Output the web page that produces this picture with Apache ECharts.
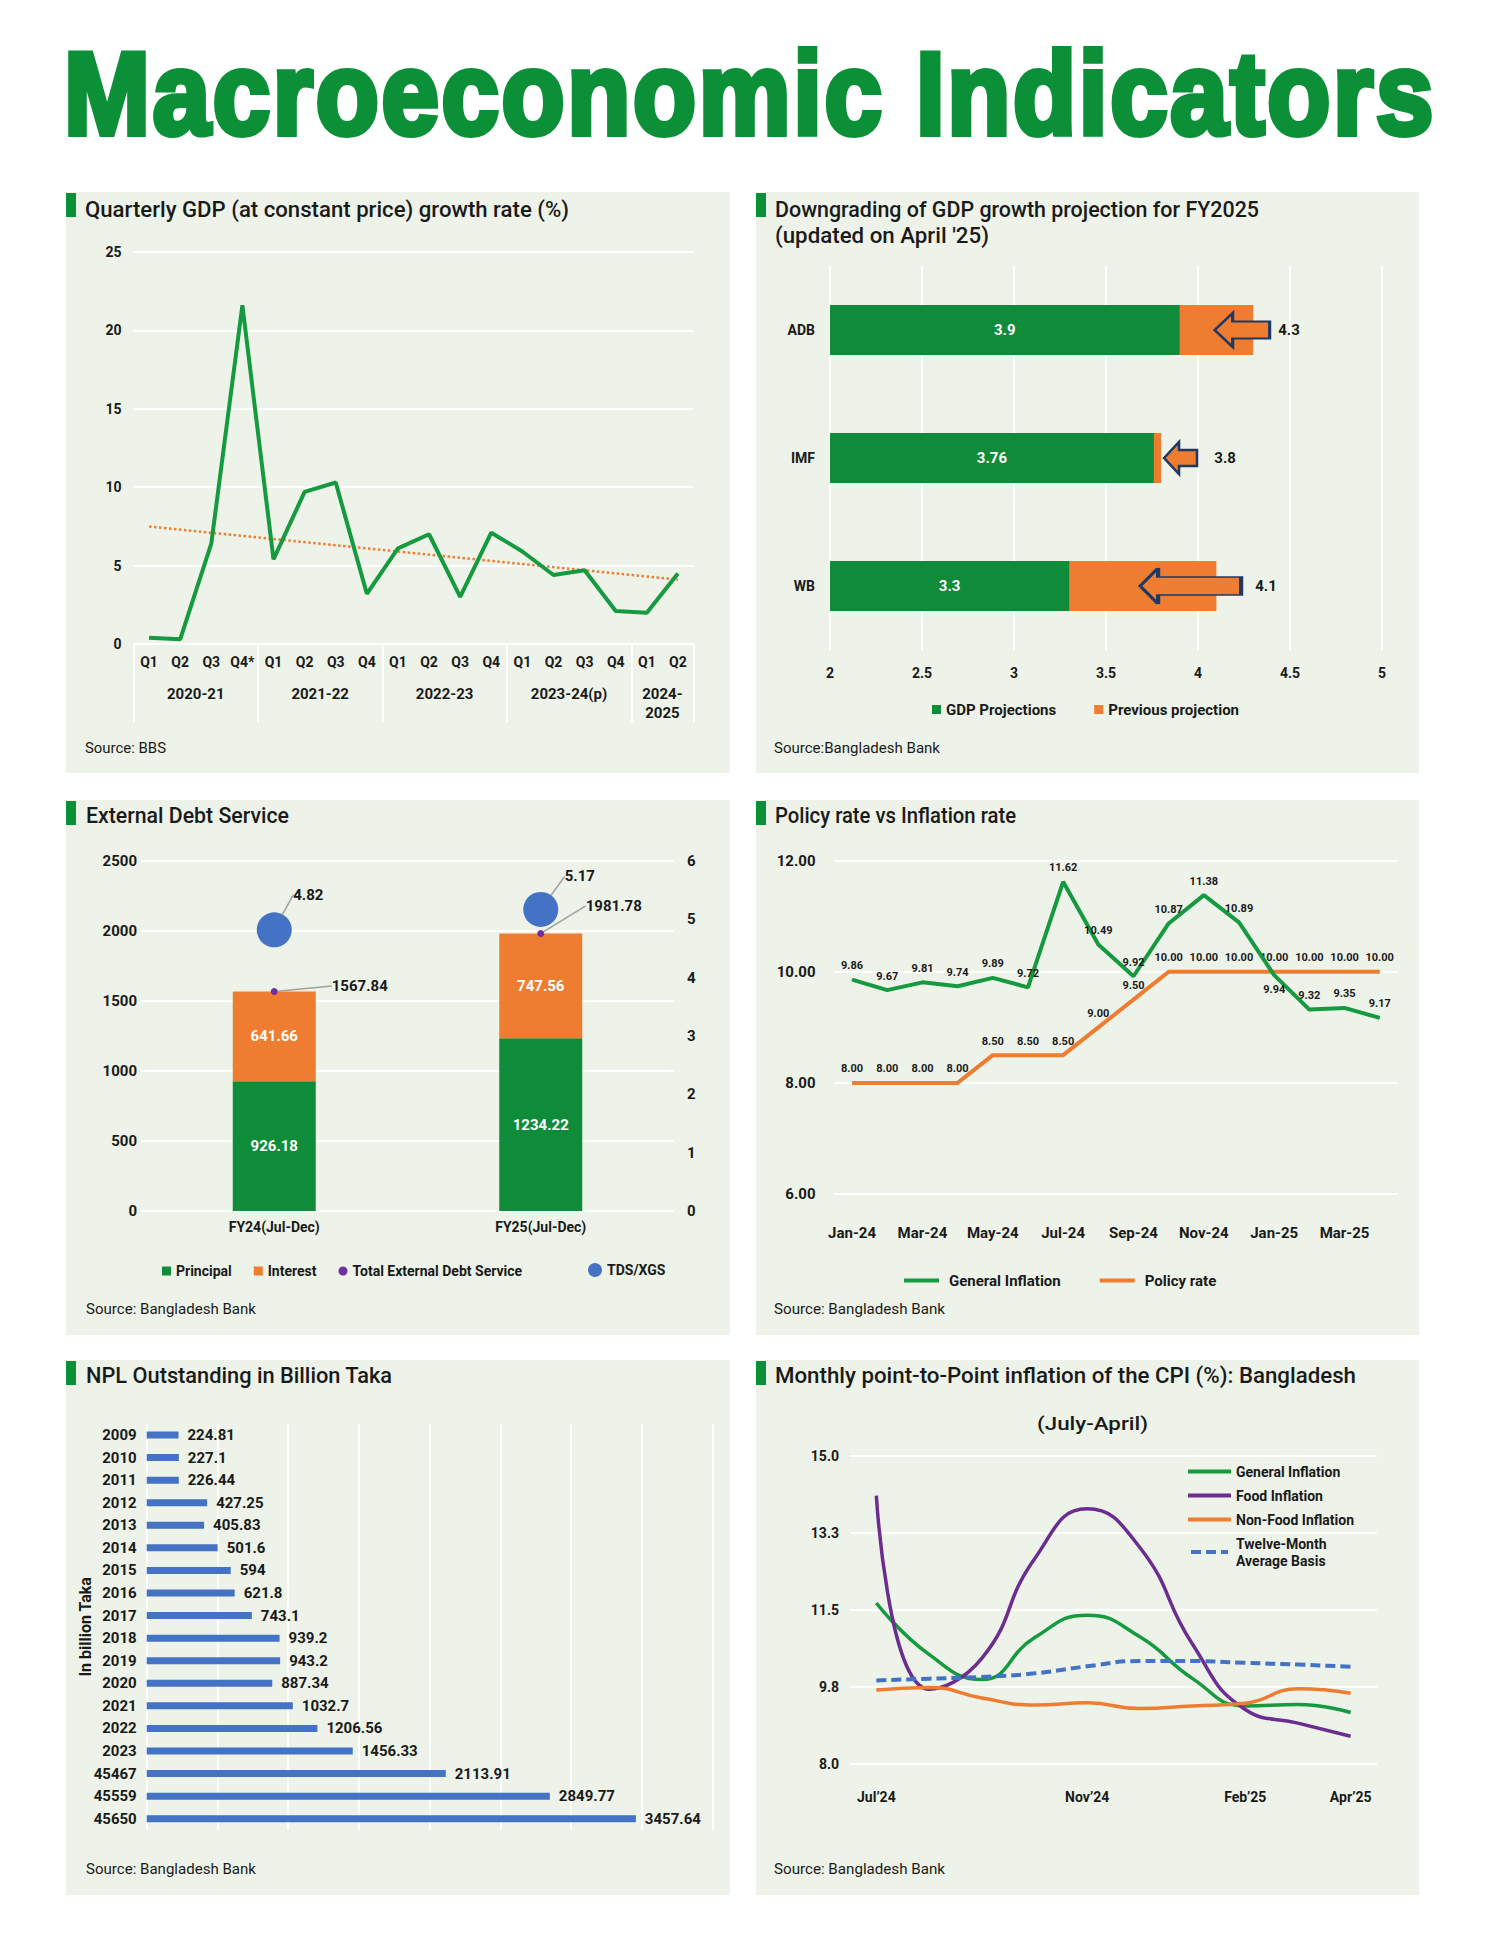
<!DOCTYPE html>
<html><head><meta charset="utf-8">
<script src="https://cdn.jsdelivr.net/npm/echarts@6/dist/echarts.min.js"></script>
<style>
html,body{margin:0;padding:0;background:#fff;}
body{width:1500px;height:1941px;position:relative;overflow:hidden;font-family:Roboto,"Noto Sans",sans-serif;}
.panel{position:absolute;background:#edf3e8;}
.mark{position:absolute;background:#0b9038;width:10px;height:24px;}
.txt{position:absolute;white-space:nowrap;transform-origin:0 0;color:#1a1a1a;font-family:Roboto,"Noto Sans",sans-serif;}
#mainTitle{position:absolute;white-space:nowrap;transform-origin:0 0;font-family:"Liberation Sans",Arial,sans-serif;font-weight:bold;font-size:116px;line-height:116px;color:#0b9038;-webkit-text-stroke:6px #0b9038;paint-order:stroke fill;letter-spacing:3px;}
</style></head><body>
<div id="mainTitle">Macroeconomic Indicators</div>
<script>
// ---------- DATA ----------
// Quarterly GDP growth
const gdpQuarters = ['Q1','Q2','Q3','Q4*','Q1','Q2','Q3','Q4','Q1','Q2','Q3','Q4','Q1','Q2','Q3','Q4','Q1','Q2'];
const gdpYears = ['2020-21','2021-22','2022-23','2023-24(p)','2024-\n2025'];
const gdpYearBounds = [0,4,8,12,16,18];
const gdpGrowth = [0.4,0.3,6.4,21.6,5.4,9.7,10.3,3.2,6.1,7.0,3.0,7.1,5.9,4.4,4.7,2.1,2.0,4.5];
const gdpTrend = [[0,7.5],[17,4.1]];

// GDP projection downgrade
const projAgencies = ['ADB','IMF','WB'];
const gdpProjection = [3.9,3.76,3.3];
const previousProjection = [4.3,3.8,4.1];

// External debt service
const debtPeriods = ['FY24(Jul-Dec)','FY25(Jul-Dec)'];
const debtPrincipal = [926.18,1234.22];
const debtInterest = [641.66,747.56];
const debtTotal = [1567.84,1981.78];
const tdsXgs = [4.82,5.17];

// Policy rate vs inflation
const policyMonths = ['Jan-24','Feb-24','Mar-24','Apr-24','May-24','Jun-24','Jul-24','Aug-24','Sep-24','Oct-24','Nov-24','Dec-24','Jan-25','Feb-25','Mar-25','Apr-25'];
const generalInflation = [9.86,9.67,9.81,9.74,9.89,9.72,11.62,10.49,9.92,10.87,11.38,10.89,9.94,9.32,9.35,9.17];
const policyRate = [8,8,8,8,8.5,8.5,8.5,9,9.5,10,10,10,10,10,10,10];

// NPL outstanding
const nplYears = ['2009','2010','2011','2012','2013','2014','2015','2016','2017','2018','2019','2020','2021','2022','2023','45467','45559','45650'];
const nplValues = [224.81,227.1,226.44,427.25,405.83,501.6,594,621.8,743.1,939.2,943.2,887.34,1032.7,1206.56,1456.33,2113.91,2849.77,3457.64];

// Monthly CPI inflation
const cpiMonths = ['Jul\u201924','Aug\u201924','Sep\u201924','Oct\u201924','Nov\u201924','Dec\u201924','Jan\u201925','Feb\u201925','Mar\u201925','Apr\u201925'];
const cpiShownLabels = ['Jul\u201924','Nov\u201924','Feb\u201925','Apr\u201925'];
const cpiGeneral = [11.66,10.49,9.92,10.87,11.38,10.89,9.94,9.32,9.35,9.17];
const cpiFood = [14.10,9.70,10.40,12.66,13.80,12.92,10.72,9.24,8.93,8.63];
const cpiNonFood = [9.68,9.74,9.50,9.34,9.39,9.26,9.32,9.38,9.71,9.61];
const cpiTwelveMonth = [9.90,9.94,9.98,10.06,10.22,10.34,10.34,10.30,10.26,10.21];

// ---------- STYLE ----------
const GREEN='#0f8c3a', LGREEN='#169a3f', ORANGE='#ef7d31', BLUE='#4472c4', PURPLE='#6b2d90', DARK='#1a1a1a', NAVY='#1f3864';
const FONT='Roboto';
const panels = [[66,192,664,581],[756,192,663,581],[66,800,664,535],[756,800,663,535],[66,1360,664,535],[756,1360,663,535]];

// ---------- LAYOUT ----------
const charts=[];
panels.forEach((p,i)=>{
  const d=document.createElement('div');
  d.className='panel';
  d.style.cssText+=`left:${p[0]}px;top:${p[1]}px;width:${p[2]}px;height:${p[3]}px;`;
  document.body.appendChild(d);
  const m=document.createElement('div');
  m.className='mark';
  m.style.left=p[0]+'px'; m.style.top=(p[1]+1)+'px';
  document.body.appendChild(m);
  charts.push(echarts.init(d,null,{renderer:'svg',width:p[2],height:p[3]}));
});

const texts = [
 ['Quarterly GDP (at constant price) growth rate (%)',85,218,22,500,484],
 ['Downgrading of GDP growth projection for FY2025',775,218,22,500,484],
 ["(updated on April '25)",775,243.5,22,500,214],
 ['External Debt Service',86,824,22,500,203],
 ['Policy rate vs Inflation rate',775,824,22,500,241],
 ['NPL Outstanding in Billion Taka',86,1384,22,500,306],
 ['Monthly point-to-Point inflation of the CPI (%): Bangladesh',775,1384,22,500,581],
 ['(July-April)',1037,1430,19,500,111],
 ['Source: BBS',85,754,15,400,81],
 ['Source:Bangladesh Bank',774,754,15,400,166],
 ['Source: Bangladesh Bank',86,1315,15,400,170],
 ['Source: Bangladesh Bank',774,1315,15,400,171],
 ['Source: Bangladesh Bank',86,1875,15,400,170],
 ['Source: Bangladesh Bank',774,1875,15,400,171]
];
texts.forEach(t=>{
  const s=document.createElement('div');
  s.className='txt';
  s.textContent=t[0];
  s.style.fontSize=t[3]+'px'; s.style.lineHeight=t[3]+'px'; s.style.fontWeight=t[4];
  s.style.left=t[1]+'px'; s.style.top=(t[2]-0.8415*t[3])+'px';
  document.body.appendChild(s);
  const w=s.getBoundingClientRect().width;
  s.style.transform=`scaleX(${t[5]/w})`;
});
const mt=document.getElementById('mainTitle');
mt.style.left='64px'; mt.style.top='36px';
mt.style.transform=`scaleX(${1372/mt.getBoundingClientRect().width})`;

const lbl=(o)=>Object.assign({fontFamily:FONT,fontWeight:'bold',color:DARK},o);
const white={color:'#ffffff',width:2};
const G=(o)=>Object.assign({outerBoundsMode:'none',containLabel:false},o);

// ---------- PANEL 1 : Quarterly GDP ----------
const yearCenters = gdpYears.map((_,i)=>(gdpYearBounds[i]+gdpYearBounds[i+1])/2);
charts[0].setOption({
  animation:false, textStyle:{fontFamily:FONT},
  grid:G({left:67.5,right:36.5,top:60,bottom:129}),
  xAxis:[
    {type:'category',data:gdpQuarters,axisLine:{show:false},axisTick:{show:false},
     axisLabel:lbl({interval:0,margin:11,fontSize:14})},
    {type:'value',min:0,max:18,position:'bottom',axisLine:{show:false},splitLine:{show:false},
     axisTick:{show:true,customValues:gdpYearBounds,length:78,lineStyle:white},
     axisLabel:lbl({customValues:yearCenters,margin:40,fontSize:15,lineHeight:19,
       formatter:v=>{const k=yearCenters.indexOf(v);return k>=0?gdpYears[k]:'';}})}
  ],
  yAxis:{type:'value',min:0,max:25,interval:5,axisLine:{show:false},axisTick:{show:false},
     splitLine:{lineStyle:white},axisLabel:lbl({margin:12,fontSize:14})},
  series:[
    {type:'line',data:gdpGrowth,symbol:'none',lineStyle:{color:LGREEN,width:4},z:3},
    {type:'line',data:gdpTrend,symbol:'none',lineStyle:{color:ORANGE,width:2.5,type:'dotted'},z:2}
  ]
});

// ---------- PANEL 2 : Projection downgrade ----------
const arrowMarks=[{at:4.24,w:55,h:34,head:18,shaft:17,gap:7},{at:3.905,w:33,h:32,head:15,shaft:16,gap:16},{at:3.96,w:101,h:36,head:18,shaft:18,gap:12}];
function arrowPath(w,h,head,shaft){const t=(h-shaft)/2,b=(h+shaft)/2;return `path://M0,${h/2}L${head},0L${head},${t}L${w},${t}L${w},${b}L${head},${b}L${head},${h}Z`;}
charts[1].setOption({
  animation:false, textStyle:{fontFamily:FONT},
  grid:G({left:74,right:37,top:74,bottom:123}),
  xAxis:{type:'value',min:2,max:5,interval:0.5,axisLine:{show:false},axisTick:{show:false},
     splitLine:{lineStyle:white},axisLabel:lbl({margin:16,fontSize:14})},
  yAxis:{type:'category',data:projAgencies,inverse:true,axisLine:{show:false},axisTick:{show:false},
     axisLabel:lbl({margin:15,fontSize:14})},
  legend:{data:[{name:'GDP Projections',icon:'rect'},{name:'Previous projection',icon:'rect'}],padding:0,
     left:176,top:510,itemWidth:9,itemHeight:9,itemGap:38,textStyle:lbl({fontSize:15})},
  series:[
    {name:'Previous projection',type:'bar',data:previousProjection,barWidth:50,itemStyle:{color:ORANGE},
     markPoint:{
       data:arrowMarks.map((a,i)=>({coord:[a.at,projAgencies[i]],value:previousProjection[i],
         symbol:arrowPath(a.w,a.h,a.head,a.shaft),symbolSize:[a.w,a.h],
         label:{distance:a.gap}})),
       itemStyle:{color:ORANGE,borderColor:NAVY,borderWidth:2.5},
       label:lbl({show:true,position:'right',fontSize:15,formatter:'{c}'})
     }},
    {name:'GDP Projections',type:'bar',data:gdpProjection,barWidth:50,barGap:'-100%',itemStyle:{color:GREEN},
     label:lbl({show:true,position:'inside',color:'#fff',fontSize:15})}
  ]
});

// ---------- PANEL 3 : External debt service ----------
const totalLabelShift=[[49,-5.5],[36.5,-27.6]];
const tdsLabelShift=[[-3.5,-35],[1.5,-33]];
charts[2].setOption({
  animation:false, textStyle:{fontFamily:FONT},
  grid:G({left:75,right:56,top:61,bottom:124}),
  xAxis:{type:'category',data:debtPeriods,axisLine:{show:false},axisTick:{show:false},
     axisLabel:lbl({margin:9,fontSize:14})},
  yAxis:[
    {type:'value',min:0,max:2500,interval:500,axisLine:{show:false},axisTick:{show:false},
     splitLine:{lineStyle:white},axisLabel:lbl({margin:4,fontSize:15,formatter:v=>String(v)})},
    {type:'value',min:0,max:6,interval:1,position:'right',axisLine:{show:false},axisTick:{show:false},
     splitLine:{show:false},axisLabel:lbl({margin:13,fontSize:15})}
  ],
  legend:[
    {data:[{name:'Principal',icon:'rect'},{name:'Interest',icon:'rect'},{name:'Total External Debt Service',icon:'circle'}],
     padding:0,left:96,top:464,itemWidth:9,itemHeight:9,itemGap:22,textStyle:lbl({fontSize:14})},
    {data:[{name:'TDS/XGS',icon:'circle'}],padding:0,left:522,top:463,itemWidth:14,itemHeight:14,textStyle:lbl({fontSize:14})}
  ],
  series:[
    {name:'Principal',type:'bar',stack:'debt',data:debtPrincipal,barWidth:83,itemStyle:{color:GREEN},
     label:lbl({show:true,position:'inside',color:'#fff',fontSize:15})},
    {name:'Interest',type:'bar',stack:'debt',data:debtInterest,barWidth:83,itemStyle:{color:ORANGE},
     label:lbl({show:true,position:'inside',color:'#fff',fontSize:15})},
    {name:'Total External Debt Service',type:'scatter',data:debtTotal,symbolSize:7,itemStyle:{color:'#7030a0',opacity:1},z:5,
     label:lbl({show:true,position:'right',fontSize:15}),
     labelLayout:p=>({dx:totalLabelShift[p.dataIndex][0],dy:totalLabelShift[p.dataIndex][1]}),
     labelLine:{show:true,lineStyle:{color:'#a0a0a0',width:1.5}}},
    {name:'TDS/XGS',type:'scatter',yAxisIndex:1,data:tdsXgs,symbolSize:35,itemStyle:{color:BLUE,opacity:1},z:4,
     label:lbl({show:true,position:'right',fontSize:15}),
     labelLayout:p=>({dx:tdsLabelShift[p.dataIndex][0],dy:tdsLabelShift[p.dataIndex][1]}),
     labelLine:{show:true,lineStyle:{color:'#a0a0a0',width:1.5}}}
  ]
});

// ---------- PANEL 4 : Policy rate vs inflation ----------
const labelBelow=[12];
const lineLabel=lbl({show:true,position:'top',distance:8,fontSize:11,formatter:p=>Number(p.value).toFixed(2)});
charts[3].setOption({
  animation:false, textStyle:{fontFamily:FONT},
  grid:G({left:78.5,right:21.7,top:60.7,bottom:141}),
  xAxis:{type:'category',data:policyMonths,axisLine:{show:false},axisTick:{show:false},
     axisLabel:lbl({interval:1,margin:31,fontSize:15})},
  yAxis:{type:'value',min:6,max:12,interval:2,axisLine:{show:false},axisTick:{show:false},
     splitLine:{lineStyle:white},axisLabel:lbl({margin:19,fontSize:15,formatter:v=>v.toFixed(2)})},
  legend:{data:[{name:'General Inflation',icon:'rect'},{name:'Policy rate',icon:'rect'}],padding:0,
     left:148,top:473,itemWidth:35,itemHeight:4,itemGap:39,textStyle:lbl({fontSize:15,padding:[0,0,0,5]})},
  series:[
    {name:'General Inflation',type:'line',symbol:'circle',symbolSize:1,itemStyle:{color:LGREEN},
     lineStyle:{color:LGREEN,width:4},label:lineLabel,z:3,
     data:generalInflation.map((v,i)=>labelBelow.includes(i)?{value:v,label:{position:'bottom'}}:v)},
    {name:'Policy rate',type:'line',symbol:'circle',symbolSize:1,itemStyle:{color:ORANGE},
     lineStyle:{color:ORANGE,width:4},label:lineLabel,z:2,data:policyRate}
  ]
});

// ---------- PANEL 5 : NPL outstanding ----------
charts[4].setOption({
  animation:false, textStyle:{fontFamily:FONT},
  grid:G({left:80.7,right:17.4,top:63.7,bottom:65}),
  xAxis:{type:'value',min:0,max:4000,interval:500,axisLine:{show:false},axisTick:{show:false},
     axisLabel:{show:false},splitLine:{lineStyle:white}},
  yAxis:{type:'category',data:nplYears,inverse:true,axisLine:{show:false},axisTick:{show:false},
     axisLabel:lbl({margin:10,fontSize:15}),
     name:'In billion Taka',nameLocation:'middle',nameRotate:90,nameGap:53,nameMoveOverlap:false,
     nameTextStyle:lbl({fontSize:16})},
  series:[{type:'bar',data:nplValues,barWidth:7,itemStyle:{color:BLUE},
     label:lbl({show:true,position:'right',distance:9,fontSize:15})}]
});

// ---------- PANEL 6 : Monthly CPI inflation ----------
const dashIcon='path://M0,0H10V4H0Z M15,0H25V4H15Z M30,0H37V4H30Z';
charts[5].setOption({
  animation:false, textStyle:{fontFamily:FONT},
  grid:G({left:94,right:42,top:96,bottom:131}),
  xAxis:{type:'category',data:cpiMonths,axisLine:{show:false},axisTick:{show:false},
     axisLabel:lbl({interval:0,margin:26,fontSize:14,formatter:v=>cpiShownLabels.includes(v)?v:''})},
  yAxis:{type:'value',min:8,max:15,interval:1.75,axisLine:{show:false},axisTick:{show:false},
     splitLine:{lineStyle:white},axisLabel:lbl({margin:11,fontSize:14,formatter:v=>v.toFixed(1)})},
  legend:{orient:'vertical',padding:0,left:432,top:103,itemWidth:43,itemHeight:4,itemGap:7,
     data:[{name:'General Inflation',icon:'rect'},{name:'Food Inflation',icon:'rect'},{name:'Non-Food Inflation',icon:'rect'},{name:'Twelve-Month\nAverage Basis',icon:dashIcon}],
     textStyle:lbl({fontSize:14,lineHeight:17})},
  series:[
    {name:'General Inflation',type:'line',smooth:true,symbol:'none',data:cpiGeneral,lineStyle:{color:LGREEN,width:3.5},itemStyle:{color:LGREEN}},
    {name:'Food Inflation',type:'line',smooth:true,symbol:'none',data:cpiFood,lineStyle:{color:PURPLE,width:3.5},itemStyle:{color:PURPLE}},
    {name:'Non-Food Inflation',type:'line',smooth:true,symbol:'none',data:cpiNonFood,lineStyle:{color:ORANGE,width:3.5},itemStyle:{color:ORANGE}},
    {name:'Twelve-Month\nAverage Basis',type:'line',smooth:true,symbol:'none',data:cpiTwelveMonth,lineStyle:{color:BLUE,width:4,type:[10,5]},itemStyle:{color:BLUE}}
  ]
});
</script>
</body></html>
